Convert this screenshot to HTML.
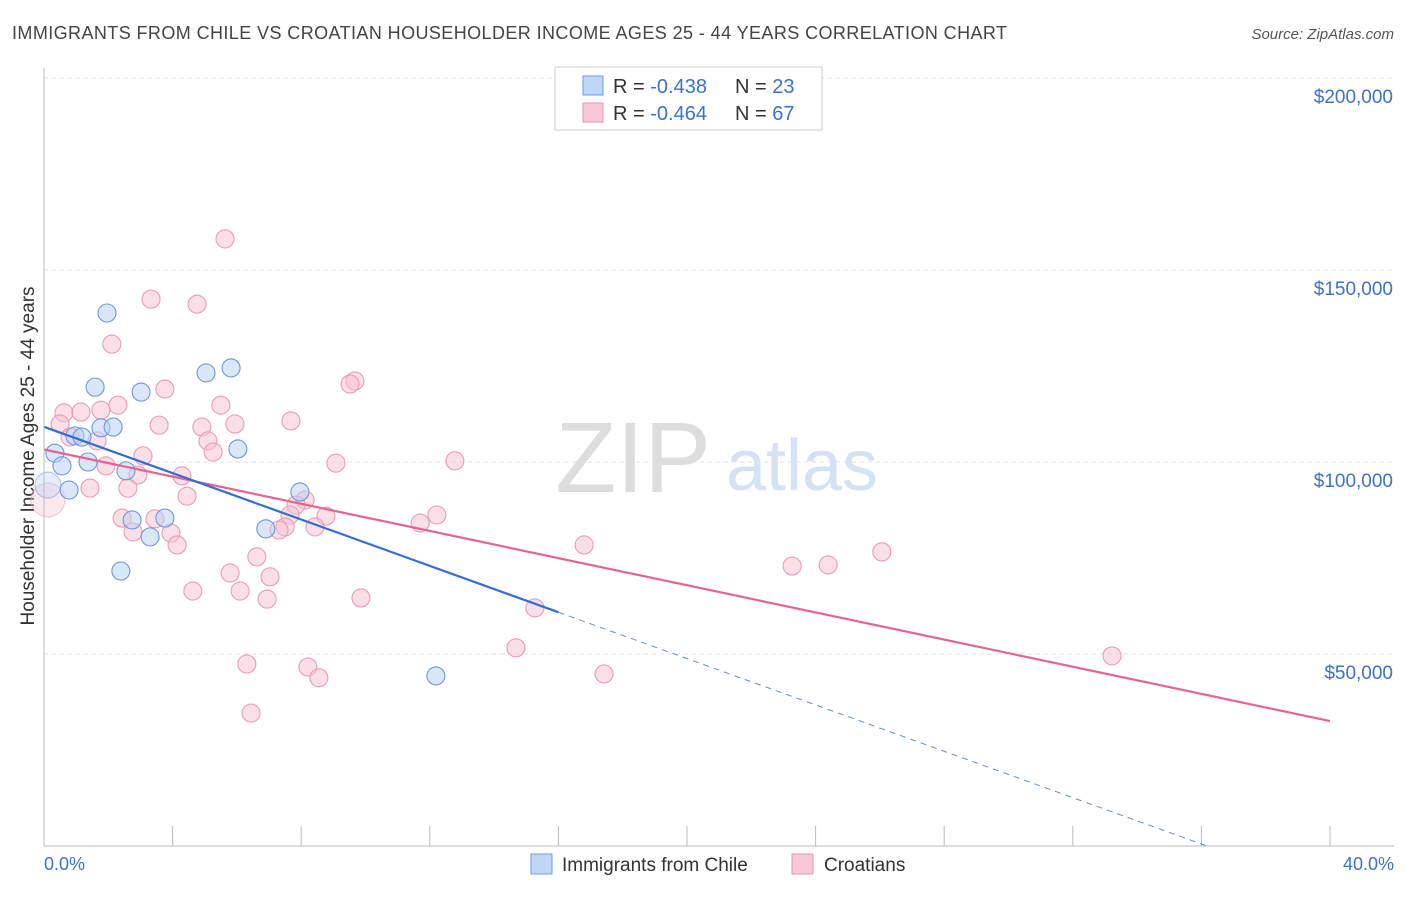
<!DOCTYPE html>
<html><head><meta charset="utf-8"><style>
body{margin:0;background:#fff;font-family:"Liberation Sans",sans-serif;}
svg text{font-family:"Liberation Sans",sans-serif;}
</style></head><body>
<svg id="c" width="1406" height="892">
<text x="12" y="39" font-size="18" fill="#444" textLength="995">IMMIGRANTS FROM CHILE VS CROATIAN HOUSEHOLDER INCOME AGES 25 - 44 YEARS CORRELATION CHART</text>
<text x="1394" y="39" font-size="15" fill="#555" text-anchor="end" font-style="italic">Source: ZipAtlas.com</text>
<text x="633" y="492" font-size="100" fill="#ddd" font-family="Liberation Serif" text-anchor="middle">ZIP</text>
<text x="802" y="490" font-size="72" fill="#d4e2f4" text-anchor="middle">atlas</text>
<text transform="translate(34,456) rotate(-90)" font-size="19" fill="#333" text-anchor="middle">Householder Income Ages 25 - 44 years</text>
<g id="grid"></g><g id="pts"></g><g id="lines"></g>
<line x1="44" y1="68" x2="44" y2="846" stroke="#bbb"/>
<line x1="44" y1="846" x2="1394" y2="846" stroke="#bbb"/>
<text x="44" y="870" font-size="18" fill="#3a72d0">0.0%</text>
<text x="1394" y="870" font-size="18" fill="#3a72d0" text-anchor="end">40.0%</text>
<g>
<rect x="555" y="67" width="267" height="63" fill="#fff" stroke="#ccc"/>
<rect x="583" y="76" width="20" height="19" fill="#c0d6f5" stroke="#6d9ce0"/>
<rect x="583" y="103" width="20" height="19" fill="#f9c8d6" stroke="#ec93af"/>
<text x="613" y="93" font-size="20" fill="#333">R = <tspan fill="#3a72d0">-0.438</tspan></text>
<text x="735" y="93" font-size="20" fill="#333">N = <tspan fill="#3a72d0">23</tspan></text>
<text x="613" y="120" font-size="20" fill="#333">R = <tspan fill="#3a72d0">-0.464</tspan></text>
<text x="735" y="120" font-size="20" fill="#333">N = <tspan fill="#3a72d0">67</tspan></text>
</g>
<g>
<rect x="531" y="854" width="21" height="20" fill="#c0d6f5" stroke="#6d9ce0"/>
<text x="562" y="871" font-size="19" fill="#333">Immigrants from Chile</text>
<rect x="792" y="854" width="21" height="20" fill="#f9c8d6" stroke="#ec93af"/>
<text x="824" y="871" font-size="19" fill="#333">Croatians</text>
</g>
</svg>
<script>
const yTicks=[50000,100000,150000,200000];
const yTickLabels=["$50,000","$100,000","$150,000","$200,000"];
const chileX=[1.96,1.59,3.02,5.04,5.82,1.77,2.15,0.96,1.18,0.34,0.56,1.37,2.55,6.03,0.78,0.12,7.96,2.74,3.76,3.30,6.90,2.39,12.19];
const chileY=[138800,119500,118200,123200,124500,108900,109100,106800,106500,102300,99000,100000,97700,103400,92700,94000,92200,84900,85400,80500,82600,71600,44300];
const croX=[5.63,3.33,4.76,2.11,9.67,9.52,3.76,0.62,1.15,1.77,2.30,5.50,7.68,5.94,0.50,3.58,4.91,0.81,1.65,5.10,3.08,5.26,12.78,9.08,1.93,4.29,2.92,1.43,2.61,4.45,0.12,8.12,7.84,2.43,3.45,7.65,8.77,12.22,11.70,8.43,7.50,7.31,2.77,3.95,4.14,16.80,26.06,6.62,5.79,23.27,24.39,7.03,4.63,6.10,6.94,9.86,15.27,14.68,33.22,6.31,8.21,8.55,17.42,6.44];
const croY=[158100,142400,141100,130700,121100,120300,119000,112800,113000,113500,114800,114800,110700,109900,109900,109600,109100,106500,105500,105500,101600,102600,100300,99700,99000,96400,96600,93200,93200,91100,90100,90100,88800,85400,85200,86200,85900,86200,84100,83100,83100,82300,81800,81500,78400,78400,76600,75300,71100,72900,73200,70100,66400,66400,64300,64600,62000,51600,49500,47400,46600,43800,44800,34600];
const NS="http://www.w3.org/2000/svg";
const xs=p=>44+p/40*1286;
const ys=v=>846-v/50000*192;
function mk(tag,at,parent){const e=document.createElementNS(NS,tag);for(const k in at)e.setAttribute(k,at[k]);document.getElementById(parent).appendChild(e);return e;}
yTicks.forEach((t,i)=>{
 const l=mk('line',{x1:44,x2:1394,y1:ys(t),y2:ys(t),stroke:'#e2e2e2','stroke-dasharray':'4,4'},'grid');
 
 
 const tx=mk('text',{x:1393,y:ys(t)+25,'font-size':19,fill:'#3a72d0','text-anchor':'end'},'grid');
 tx.textContent=yTickLabels[i];
 
 
});
for(let i=1;i<=10;i++){
 const l=mk('line',{x1:44+i*128.6,x2:44+i*128.6,y1:826,y2:846,stroke:'#bbb'},'grid');
 
 
}
function pts(X,Y,fill,stroke,name){
 X.forEach((x,i)=>{
  const big=x<0.2;
  const c=mk('circle',{cx:xs(x),cy:ys(Y[i]),r:big?(name==='croatian-point'?17:13):9,fill:fill,'fill-opacity':big?0.35:0.5,stroke:stroke,'stroke-width':1.1,'stroke-opacity':big?0.5:1},'pts');
  
  
 });
}
pts(croX,croY,'#f7bfd0','#ec9ab6','croatian-point');
pts(chileX,chileY,'#b5cff3','#6b98de','chile-point');
function fit(X,Y){const n=X.length;let mx=0,my=0;X.forEach((x,i)=>{mx+=x;my+=Y[i];});mx/=n;my/=n;let sxy=0,sxx=0;X.forEach((x,i)=>{sxy+=(x-mx)*(Y[i]-my);sxx+=(x-mx)*(x-mx);});const b=sxy/sxx;return [my-b*mx,b];}
const [ca,cb]=fit(croX,croY);
let l=mk('line',{x1:xs(0),y1:ys(ca),x2:xs(40),y2:ys(ca+cb*40),stroke:'#e8638f','stroke-width':2.2},'lines');


const [ba,bb]=fit(chileX,chileY);
const xe=16;
l=mk('line',{x1:xs(0),y1:ys(ba),x2:xs(xe),y2:ys(ba+bb*xe),stroke:'#2f6fd6','stroke-width':2.2},'lines');


const xz=Math.min(40,-ba/bb);
l=mk('line',{x1:xs(xe),y1:ys(ba+bb*xe),x2:xs(xz),y2:ys(ba+bb*xz),stroke:'#5e8fdc','stroke-width':1,'stroke-dasharray':'6,5'},'lines');


</script>
</body></html>
